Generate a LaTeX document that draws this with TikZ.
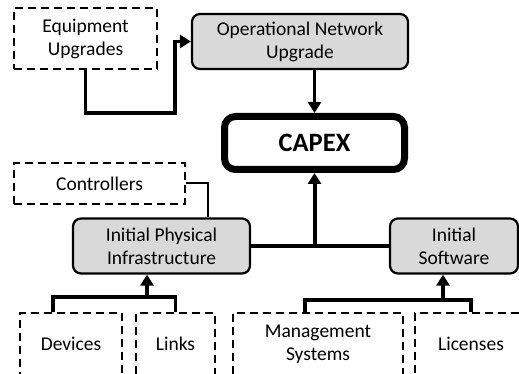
\documentclass[tikz,border=0pt]{standalone}
\usepackage{fontspec}
\setmainfont{Carlito}
\usetikzlibrary{arrows.meta}
\definecolor{boxgray}{HTML}{D9D9D9}
\tikzset{
  base/.style={align=center, inner sep=0pt, font=\fontsize{19.5}{23}\selectfont},
  solidbox/.style={base, draw, line width=2.2pt, rounded corners=8pt, fill=boxgray},
  dashbox/.style={base, draw, line width=2.4pt, dash pattern=on 8pt off 5pt},
  capexbox/.style={base, draw, line width=7pt, rounded corners=11pt,
    font=\fontsize{26.5}{30}\selectfont\bfseries},
  link/.style={line width=3.2pt},
  feed/.style={line width=3.2pt, -{Triangle[length=11pt,width=13pt]}},
}
\begin{document}
\begin{tikzpicture}[x=1pt,y=-1pt]
\useasboundingbox (0,0) rectangle (519,374);

% top row
\node[dashbox, minimum width=143pt, minimum height=61pt] (eq) at (85.5,38.5) {Equipment\\Upgrades};
\node[solidbox, minimum width=216pt, minimum height=55pt] (op) at (300,41.5) {Operational Network\\Upgrade};

% cost root
\node[capexbox, minimum width=180pt, minimum height=53pt] (capex) at (314.5,143) {CAPEX};

% middle row
\node[dashbox, minimum width=171pt, minimum height=41pt] (ctrl) at (99.5,183.5) {Controllers};
\node[solidbox, minimum width=177pt, minimum height=55pt] (phys) at (161.5,246) {Initial Physical\\Infrastructure};
\node[solidbox, minimum width=128pt, minimum height=55pt] (soft) at (454,246) {Initial\\Software};

% bottom row (runs past the lower edge)
\node[dashbox, minimum width=102pt, minimum height=62pt] (dev) at (71,344) {Devices};
\node[dashbox, minimum width=79pt, minimum height=62pt] (links) at (175.5,344) {Links};
\node[dashbox, minimum width=170pt, minimum height=62pt] (mgmt) at (318,344) {Management\\Systems};
\node[dashbox, minimum width=112pt, minimum height=62pt] (lic) at (471,344) {Licenses};

% equipment upgrades feed the operational upgrade
\coordinate (eqbend) at (175,113);
\draw[feed] (eq.south) |- (eqbend) |- (op.west);

% operational upgrade into CAPEX
\draw[feed] (capex.north |- op.south) -- (capex.north);

% initial investments into CAPEX
\draw[link] (phys.east) -- (soft.west);
\draw[feed, line width=4pt] (capex.south |- phys.east) -- (capex.south);

% controllers attach to physical infrastructure
\coordinate (ctrlbend) at (208,183.5);
\draw[line width=2pt] (ctrl.east) -- (ctrlbend) -- (ctrlbend |- phys.north);

% devices and links
\coordinate (physjoin) at (147,297);
\coordinate (devtap) at ([xshift=-18pt]dev.north);
\draw[link] (devtap) |- (links.north |- physjoin) -- (links.north);
\draw[feed] (physjoin) -- (physjoin |- phys.south);

% management systems and licenses
\coordinate (softjoin) at (443,300);
\coordinate (mgmttap) at ([xshift=-13pt]mgmt.north);
\draw[link] (mgmttap) |- (lic.north |- softjoin) -- (lic.north);
\draw[feed] (softjoin) -- (softjoin |- soft.south);
\end{tikzpicture}
\end{document}
